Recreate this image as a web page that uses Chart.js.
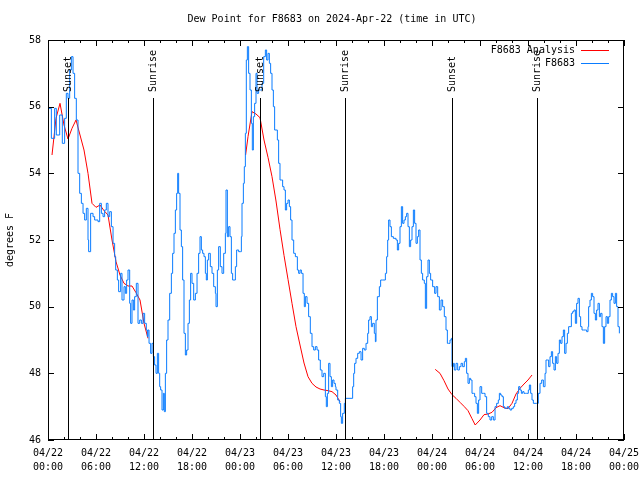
<!DOCTYPE html>
<html>
<head>
<meta charset="utf-8">
<script src="https://cdn.jsdelivr.net/npm/chart.js@4/dist/chart.umd.min.js"></script>
<style>
  html, body { margin: 0; padding: 0; background: #fff; }
  #wrap { width: 640px; height: 480px; }
</style>
</head>
<body>
<div id="wrap"><canvas id="dewChart" width="640" height="480"></canvas></div>
<script>
// hours since 2024-04-22 00:00 UTC
const obsHours = [
  0.00, 0.42, 0.83, 1.04, 1.46, 1.79, 2.08, 2.29, 2.50, 2.71, 2.92, 3.13, 3.33, 3.54, 3.75, 3.96,
  4.17, 4.38, 4.58, 4.79, 5.00, 5.08, 5.33, 5.63, 5.83, 6.25, 6.46, 6.67, 6.88, 7.08, 7.29, 7.50,
  7.71, 7.92, 8.13, 8.33, 8.46, 8.67, 8.83, 9.08, 9.25, 9.50, 9.67, 9.83, 10.00, 10.21, 10.33, 10.50,
  10.67, 10.83, 11.04, 11.25, 11.46, 11.67, 11.88, 12.08, 12.29, 12.42, 12.50, 12.63, 12.83, 13.00,
  13.17, 13.33, 13.50, 13.67, 13.83, 13.96, 14.08, 14.25, 14.42, 14.54, 14.67, 14.83, 15.00, 15.21,
  15.42, 15.58, 15.75, 15.92, 16.08, 16.21, 16.33, 16.50, 16.67, 16.83, 17.00, 17.17, 17.33, 17.50,
  17.67, 17.83, 18.00, 18.21, 18.42, 18.63, 18.83, 19.00, 19.17, 19.33, 19.50, 19.67, 19.79, 19.92,
  20.08, 20.29, 20.50, 20.71, 20.92, 21.00, 21.17, 21.33, 21.54, 21.75, 21.96, 22.17, 22.25, 22.42,
  22.58, 22.75, 22.92, 23.08, 23.25, 23.42, 23.58, 23.83, 24.08, 24.17, 24.25, 24.42, 24.54, 24.67,
  24.79, 24.92, 25.08, 25.25, 25.42, 25.54, 25.67, 25.83, 26.00, 26.13, 26.33, 26.54, 26.75, 26.96,
  27.17, 27.33, 27.50, 27.67, 27.83, 28.00, 28.17, 28.33, 28.50, 28.67, 28.83, 29.00, 29.17, 29.33,
  29.50, 29.67, 29.83, 30.00, 30.17, 30.33, 30.50, 30.71, 30.92, 31.17, 31.33, 31.50, 31.67, 31.88,
  32.04, 32.17, 32.38, 32.58, 32.79, 33.00, 33.21, 33.42, 33.63, 33.83, 34.04, 34.25, 34.46, 34.67,
  34.79, 34.92, 35.08, 35.25, 35.42, 35.58, 35.75, 35.92, 36.00, 36.21, 36.42, 36.58, 36.67, 36.83,
  37.04, 37.17, 37.88, 38.08, 38.21, 38.33, 38.50, 38.71, 38.92, 39.13, 39.33, 39.54, 39.75, 39.96,
  40.08, 40.25, 40.42, 40.58, 40.79, 40.92, 41.00, 41.17, 41.42, 41.58, 41.83, 42.17, 42.33, 42.46,
  42.58, 42.75, 42.92, 43.17, 43.50, 43.67, 43.83, 44.00, 44.17, 44.33, 44.50, 44.67, 44.83, 45.00,
  45.17, 45.33, 45.50, 45.67, 45.83, 46.00, 46.17, 46.33, 46.50, 46.67, 46.83, 47.04, 47.17, 47.33,
  47.50, 47.67, 47.83, 48.08, 48.33, 48.50, 48.71, 48.92, 49.13, 49.33, 49.54, 49.75, 49.92, 50.08,
  50.25, 50.42, 50.50, 50.67, 50.79, 51.00, 51.21, 51.42, 51.63, 51.83, 52.04, 52.17, 52.33, 52.50,
  52.67, 52.83, 53.00, 53.17, 53.33, 53.50, 53.67, 53.83, 54.00, 54.21, 54.42, 54.63, 54.83, 55.04,
  55.25, 55.46, 55.67, 55.88, 56.08, 56.29, 56.42, 56.58, 56.75, 56.92, 57.08, 57.25, 57.42, 57.58,
  57.75, 57.96, 58.17, 58.33, 58.50, 58.67, 58.83, 59.00, 59.17, 59.33, 59.50, 59.67, 59.83, 60.04,
  60.17, 60.33, 60.50, 60.67, 60.88, 61.08, 61.29, 61.50, 61.71, 61.92, 62.13, 62.25, 62.42, 62.58,
  62.75, 62.92, 63.08, 63.25, 63.42, 63.58, 63.75, 63.92, 64.08, 64.25, 64.42, 64.58, 64.75, 64.92,
  65.08, 65.25, 65.42, 65.58, 65.75, 65.92, 66.08, 66.25, 66.42, 66.58, 66.75, 66.92, 67.17, 67.33,
  67.50, 67.58, 67.75, 67.92, 68.08, 68.25, 68.42, 68.58, 68.75, 68.92, 69.08, 69.25, 69.42, 69.58,
  69.75, 69.92, 70.08, 70.25, 70.42, 70.58, 70.75, 70.92, 71.08, 71.25, 71.42
];
const obsDewpt = [
  55.95, 55.05, 55.95, 55.15, 55.75, 54.9, 55.65, 56.4, 56.25, 57.1, 57.5, 57.0, 56.25, 55.6, 54.0, 53.4,
  53.1, 52.8, 52.6, 52.95, 52.0, 51.65, 52.8, 52.7, 52.6, 52.55, 53.1, 52.8, 52.7, 52.9, 53.1, 52.7,
  52.85, 52.4, 51.9, 51.5, 51.1, 50.8, 50.45, 51.0, 50.2, 50.6, 50.4, 50.8, 51.1, 50.1, 49.5, 50.2,
  49.9, 50.3, 50.7, 49.5, 49.6, 49.5, 49.8, 49.5, 49.3, 49.1, 49.3, 48.9, 48.6, 48.9,
  48.5, 48.25, 48.0, 48.6, 48.0, 47.6, 47.5, 46.9, 47.4, 46.85, 48.0, 49.0, 49.6, 50.4,
  51.0, 51.6, 52.2, 52.9, 53.4, 54.0, 53.4, 52.3, 51.8, 50.8, 49.2, 48.55, 48.7, 49.5,
  50.2, 51.0, 50.7, 50.2, 50.4, 51.0, 51.6, 52.1, 51.7, 51.6, 51.5, 51.0, 50.8, 51.4,
  51.6, 51.2, 51.0, 50.6, 50.4, 50.0, 51.1, 51.8, 51.2, 51.0, 51.6, 52.2, 53.5, 52.1,
  52.4, 52.1, 51.0, 50.8, 50.8, 51.2, 51.7, 51.65, 51.65, 52.1, 53.1, 53.7, 54.2, 55.2,
  57.4, 57.8, 57.0, 56.5, 55.5, 54.7, 55.7, 56.1, 57.0, 56.4, 56.5, 56.5, 56.7, 57.5,
  57.7, 57.4, 57.6, 57.3, 57.0, 56.5, 56.0, 55.3, 55.3, 55.0, 54.3, 53.8, 53.8, 53.6,
  53.5, 52.9, 53.1, 53.2, 53.0, 52.6, 52.0, 51.6, 51.5, 51.1, 51.0, 51.1, 51.0, 50.4,
  50.0, 50.3, 50.1, 49.7, 49.2, 48.8, 48.7, 48.8, 48.7, 48.4, 48.1, 47.9, 48.0, 47.3,
  47.0, 47.4, 48.3, 47.9, 47.6, 47.8, 47.7, 47.6, 47.5, 47.2, 47.1, 46.7, 46.5, 46.8,
  47.1, 47.25, 47.25, 47.6, 48.0, 48.3, 48.45, 48.6, 48.65, 48.4, 48.75, 48.7, 48.9, 49.2,
  49.6, 49.7, 49.4, 49.5, 49.2, 48.95, 49.6, 50.3, 50.6, 50.8, 50.8, 51.0, 51.5, 52.0,
  52.6, 52.4, 52.1, 52.05, 52.0, 51.7, 51.9, 52.4, 53.0, 52.5, 52.6, 52.7, 52.8, 52.4,
  51.8, 52.0, 52.4, 52.9, 52.5, 51.9, 52.1, 52.3, 51.4, 51.0, 50.8, 50.7, 49.95, 50.9,
  51.4, 51.0, 50.8, 50.6, 50.4, 50.6, 50.3, 49.9, 50.2, 50.0, 49.7, 49.3, 48.9, 48.9,
  49.0, 49.05, 48.2, 48.3, 48.1, 48.3, 48.1, 48.2, 48.3, 48.2, 48.35, 48.45, 48.0, 47.7,
  47.85, 47.8, 47.4, 47.4, 47.3, 47.1, 46.8, 47.2, 47.6, 47.4, 47.4, 47.3, 46.8, 46.7,
  46.6, 46.7, 46.6, 47.0, 47.1, 47.2, 47.4, 47.35, 47.3, 47.0, 46.95, 46.95, 47.0, 46.95,
  46.9, 46.95, 47.0, 47.1, 47.2, 47.4, 47.6, 47.5, 47.4, 47.45, 47.4, 47.4, 47.4, 47.5,
  47.65, 47.4, 47.2, 47.1, 47.1, 47.1, 47.4, 47.7, 47.8, 47.6, 48.0, 48.4, 48.4, 48.2,
  48.5, 48.65, 48.3, 48.1, 48.5, 48.3, 48.6, 49.0, 48.9, 49.1, 49.3, 48.6, 48.9, 49.2,
  49.4, 49.4, 49.8, 49.85, 49.9, 49.5, 50.1, 50.25, 49.7, 49.4, 49.3, 49.3, 49.3, 49.25,
  49.4, 50.0, 50.2, 50.4, 50.3, 49.8, 49.6, 49.9, 50.1, 49.7, 49.8, 49.4, 48.9, 49.4,
  49.7, 49.5, 49.7, 50.2, 50.4, 50.3, 50.1, 50.4, 50.0, 49.4, 49.2
];

// analysis series; null = gap
const anaHours = [
  0.5, 1.0, 1.5, 2.0, 2.5, 3.0, 3.5, 4.0, 4.5, 5.0, 5.5, 6.0, 6.5, 7.0, 7.5, 8.0, 8.5, 9.0, 9.5,
  10.0, 10.5, 11.0, 11.5, 12.0, 12.5,
  18.0,
  24.7, 25.0, 25.5, 26.0, 26.5, 27.0, 27.5, 28.0, 28.5, 29.0, 29.5, 30.0, 30.5, 31.0, 31.5, 32.0,
  32.5, 33.0, 33.5, 34.0, 34.5, 35.0, 35.5, 36.0, 36.5,
  42.0,
  48.4, 49.0, 49.5, 50.0, 50.5, 51.0, 51.5, 52.0, 52.5, 53.0, 53.4, 54.0, 54.5, 55.0, 55.5, 56.0,
  56.5, 57.0, 57.5, 58.0, 58.5, 59.0, 59.5, 60.0, 60.5
];
const anaDewpt = [
  54.55, 55.65, 56.1, 55.45, 55.03, 55.35, 55.6, 55.15, 54.7, 54.0, 53.1, 52.98, 53.05, 52.88, 52.75,
  52.0, 51.35, 50.95, 50.7, 50.62, 50.62, 50.42, 50.2, 49.5, 49.05,
  null,
  54.55, 55.1, 55.85, 55.78, 55.67, 55.0, 54.48, 53.9, 53.17, 52.32, 51.54, 50.82, 50.1, 49.4, 48.85,
  48.31, 47.9, 47.7, 47.59, 47.53, 47.5, 47.48, 47.45, 47.35, 47.15,
  null,
  48.12, 48.0, 47.78, 47.53, 47.36, 47.25, 47.13, 47.01, 46.88, 46.64, 46.45, 46.6, 46.76, 46.78,
  46.83, 46.97, 47.03, 46.97, 46.94, 47.1, 47.38, 47.55, 47.68, 47.8, 47.95
];

const xTickDates = ['04/22', '04/22', '04/22', '04/22', '04/23', '04/23', '04/23', '04/23',
                    '04/24', '04/24', '04/24', '04/24', '04/25'];
const xTickTimes = ['00:00', '06:00', '12:00', '18:00', '00:00', '06:00', '12:00', '18:00',
                    '00:00', '06:00', '12:00', '18:00', '00:00'];

const sunHours = [2.55, 13.15, 26.55, 37.15, 50.55, 61.1];
const sunLabels = ['Sunset', 'Sunrise', 'Sunset', 'Sunrise', 'Sunset', 'Sunrise'];

const FONT = '10px "DejaVu Sans Mono", monospace';
const RED = '#ff0000';
const BLUE = '#0a7cff';

// frame, inward ticks, sun lines, title, y label, legend
const decorPlugin = {
  id: 'decor',
  afterDatasetsDraw(chart) {
    const { ctx, chartArea: a, scales } = chart;
    const xs = scales.x, ys = scales.y;
    ctx.save();
    ctx.strokeStyle = '#000';
    ctx.lineWidth = 1;

    // sunrise / sunset markers
    ctx.font = FONT;
    ctx.fillStyle = '#000';
    sunHours.forEach((h, i) => {
      const px = Math.round(xs.getPixelForValue(h)) + 0.5;
      ctx.beginPath();
      ctx.moveTo(px, 98);
      ctx.lineTo(px, a.bottom);
      ctx.stroke();
      ctx.save();
      ctx.translate(px, 92);
      ctx.rotate(-Math.PI / 2);
      ctx.textAlign = 'left';
      ctx.textBaseline = 'middle';
      ctx.fillText(sunLabels[i], 0, 0);
      ctx.restore();
    });

    // border
    ctx.strokeRect(a.left + 0.5, a.top + 0.5, a.right - a.left - 1, a.bottom - a.top - 1);

    // x ticks every 2 h, major every 6 h
    ctx.beginPath();
    for (let h = 0; h <= 72; h += 2) {
      const px = Math.round(xs.getPixelForValue(h)) + 0.5;
      const len = h % 6 === 0 ? 6 : 3;
      ctx.moveTo(px, a.bottom);
      ctx.lineTo(px, a.bottom - len);
      ctx.moveTo(px, a.top);
      ctx.lineTo(px, a.top + len);
    }
    for (let v = 46; v <= 58; v += 2) {
      const py = Math.round(ys.getPixelForValue(v)) + 0.5;
      ctx.moveTo(a.left, py);
      ctx.lineTo(a.left + 6, py);
      ctx.moveTo(a.right, py);
      ctx.lineTo(a.right - 6, py);
    }
    ctx.stroke();

    // title
    ctx.textAlign = 'center';
    ctx.textBaseline = 'middle';
    ctx.fillText('Dew Point for F8683 on 2024-Apr-22 (time in UTC)', 332, 19);

    // y label
    ctx.save();
    ctx.translate(10, 240);
    ctx.rotate(-Math.PI / 2);
    ctx.fillText('degrees F', 0, 0);
    ctx.restore();

    // legend
    ctx.textAlign = 'right';
    ctx.fillText('F8683 Analysis', 575, 50);
    ctx.fillText('F8683', 575, 63);
    ctx.lineWidth = 1;
    ctx.strokeStyle = RED;
    ctx.beginPath(); ctx.moveTo(581, 50.5); ctx.lineTo(609, 50.5); ctx.stroke();
    ctx.strokeStyle = BLUE;
    ctx.beginPath(); ctx.moveTo(581, 63.5); ctx.lineTo(609, 63.5); ctx.stroke();
    ctx.restore();
  }
};

new Chart(document.getElementById('dewChart'), {
  type: 'line',
  data: {
    datasets: [
      {
        label: 'F8683',
        data: obsHours.map((h, i) => ({ x: h, y: obsDewpt[i] })),
        borderColor: BLUE,
        borderWidth: 1,
        pointRadius: 0,
        stepped: true,
        tension: 0
      },
      {
        label: 'F8683 Analysis',
        data: anaHours.map((h, i) => ({ x: h, y: anaDewpt[i] })),
        borderColor: RED,
        borderWidth: 1,
        pointRadius: 0,
        spanGaps: false,
        tension: 0
      }
    ]
  },
  options: {
    responsive: false,
    animation: false,
    events: [],
    layout: { padding: { top: 40, right: 16, left: 0, bottom: 0 } },
    plugins: {
      legend: { display: false },
      tooltip: { enabled: false },
      title: { display: false }
    },
    scales: {
      x: {
        type: 'linear',
        min: 0,
        max: 72,
        afterFit: (s) => { s.height = 40; s.paddingLeft = 0; s.paddingRight = 0; },
        grid: { display: false, drawTicks: false },
        border: { display: false },
        ticks: {
          stepSize: 6,
          padding: 6,
          color: '#000',
          font: { family: '"DejaVu Sans Mono", monospace', size: 10, lineHeight: 1.4 },
          maxRotation: 0,
          autoSkip: false,
          callback: (v) => {
            const i = Math.round(v / 6);
            return [xTickDates[i], xTickTimes[i]];
          }
        }
      },
      y: {
        min: 46,
        max: 58,
        afterFit: (s) => { s.width = 48; s.paddingTop = 0; s.paddingBottom = 0; },
        grid: { display: false, drawTicks: false },
        border: { display: false },
        ticks: {
          stepSize: 2,
          padding: 7,
          color: '#000',
          font: { family: '"DejaVu Sans Mono", monospace', size: 10 }
        }
      }
    }
  },
  plugins: [decorPlugin]
});
</script>
</body>
</html>
